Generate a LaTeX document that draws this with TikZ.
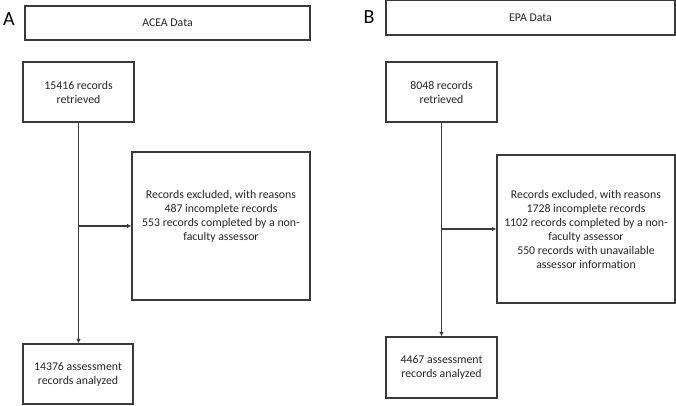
\documentclass[tikz,border=0pt]{standalone}
\usepackage{fontspec}
\setmainfont{Carlito}
\usetikzlibrary{arrows.meta,calc}
\definecolor{ln}{HTML}{3A3A3A}
\definecolor{tx}{HTML}{262626}
\begin{document}
\begin{tikzpicture}[x=1pt,y=-1pt,
  box/.style={draw=ln,line width=1.1pt,fill=white,text=tx,align=center,inner sep=0pt,
    font=\fontsize{11.8}{14}\selectfont},
  txt/.style={text=tx,align=center,inner sep=0pt,font=\fontsize{11.8}{14}\selectfont},
  plabel/.style={text=black,inner sep=0pt,font=\fontsize{20}{22}\selectfont},
  conn/.style={draw=ln,line width=1.1pt},
  arr/.style={conn,-{Latex[length=4.5pt,width=4.5pt]}}]
\useasboundingbox (0,0) rectangle (676,405);
% Panel A
\node[plabel] (la) at (9,19) {A};
\node[box,minimum width=285,minimum height=34] (hA) at (167.5,23) {ACEA Data};
\node[box,minimum width=111,minimum height=60] (rA) at (78.5,92) {15416 records\\retrieved};
\node[box,minimum width=178,minimum height=148] (eA) at (221,226) {};
\node[txt] (teA) at (221,216) {Records excluded, with reasons\\487 incomplete records\\553 records completed by a non-\\faculty assessor};
\node[box,minimum width=110,minimum height=60] (fA) at (78,374) {14376 assessment\\records analyzed};
\coordinate (jA) at (rA.south |- eA.west);
\draw[arr] (rA.south) -- (rA.south |- fA.north);
\draw[arr] (jA) -- (eA.west);
% Panel B
\node[plabel] (lb) at (369,17) {B};
\node[box,minimum width=289,minimum height=35] (hB) at (530.5,17.5) {EPA Data};
\node[box,minimum width=111,minimum height=60] (rB) at (441.5,92) {8048 records\\retrieved};
\node[box,minimum width=178,minimum height=148] (eB) at (586,229) {Records excluded, with reasons\\1728 incomplete records\\1102 records completed by a non-\\faculty assessor\\550 records with unavailable\\assessor information};
\node[box,minimum width=111,minimum height=61] (fB) at (441.5,367.5) {4467 assessment\\records analyzed};
\coordinate (jB) at (rB.south |- eB.west);
\draw[arr] (rB.south) -- (rB.south |- fB.north);
\draw[arr] (jB) -- (eB.west);
\end{tikzpicture}
\end{document}
